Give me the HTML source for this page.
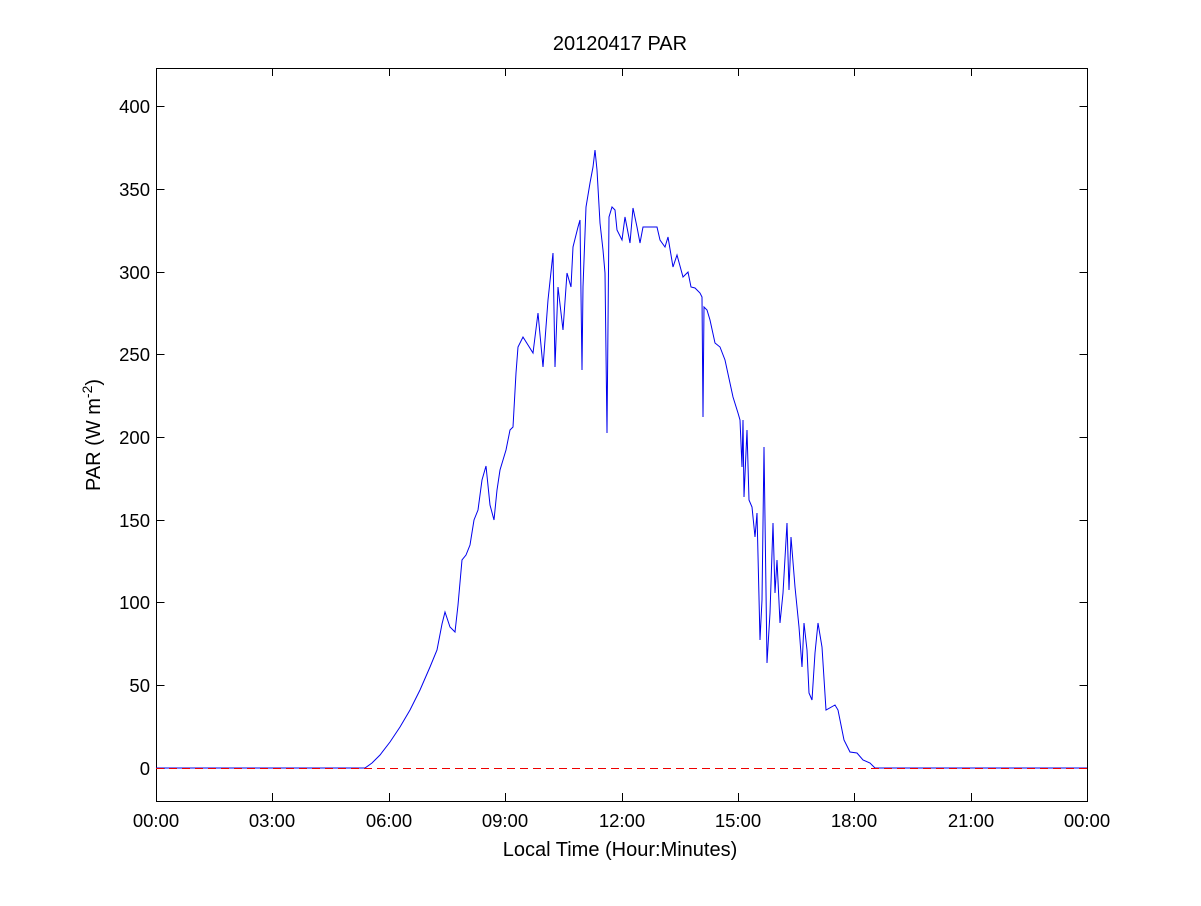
<!DOCTYPE html>
<html><head><meta charset="utf-8"><style>
html,body{margin:0;padding:0;background:#fff;}
svg text{font-family:"Liberation Sans",Arial,sans-serif;fill:#000;}
</style></head><body>
<svg width="1201" height="901" viewBox="0 0 1201 901" xmlns="http://www.w3.org/2000/svg">
<rect width="1201" height="901" fill="#fff"/>
<rect x="156.5" y="68.5" width="931" height="733" fill="#fff" stroke="#000" stroke-width="1"/>
<g stroke="#000" stroke-width="1">
<path d="M156.5 768.5h8M156.5 685.5h8M156.5 602.5h8M156.5 520.5h8M156.5 437.5h8M156.5 354.5h8M156.5 272.5h8M156.5 189.5h8M156.5 106.5h8"/>
<path d="M1087.5 768.5h-8M1087.5 685.5h-8M1087.5 602.5h-8M1087.5 520.5h-8M1087.5 437.5h-8M1087.5 354.5h-8M1087.5 272.5h-8M1087.5 189.5h-8M1087.5 106.5h-8"/>
<path d="M156.5 801v-8M272.5 801v-8M389.5 801v-8M505.5 801v-8M622.5 801v-8M738.5 801v-8M854.5 801v-8M971.5 801v-8M1087.5 801v-8"/>
<path d="M156.5 68v8M272.5 68v8M389.5 68v8M505.5 68v8M622.5 68v8M738.5 68v8M854.5 68v8M971.5 68v8M1087.5 68v8"/>
</g>
<g font-size="18.5" text-anchor="end">
<text x="150" y="775">0</text><text x="150" y="692">50</text><text x="150" y="609">100</text><text x="150" y="527">150</text><text x="150" y="444">200</text><text x="150" y="361">250</text><text x="150" y="279">300</text><text x="150" y="196">350</text><text x="150" y="113">400</text>
</g>
<g font-size="18.5" text-anchor="middle">
<text x="156" y="827">00:00</text><text x="272" y="827">03:00</text><text x="389" y="827">06:00</text><text x="505" y="827">09:00</text><text x="622" y="827">12:00</text><text x="738" y="827">15:00</text><text x="854" y="827">18:00</text><text x="971" y="827">21:00</text><text x="1087" y="827">00:00</text>
</g>
<g font-size="20" text-anchor="middle">
<text x="620" y="856">Local Time (Hour:Minutes)</text>
<text x="620" y="50">20120417 PAR</text>
<text transform="translate(100,435) rotate(-90)">PAR (W m<tspan font-size="14" dy="-8">-2</tspan><tspan dy="8">)</tspan></text>
</g>
<polyline fill="none" stroke="#0000ee" stroke-width="1" points="156,768 365,768 372,763 380,755 390,742 400,727 410,710 420,690 430,667 437,650 442,624 445,612 450,627 455,632 458,605 462,560 466,555 470,545 474,520 478,510 482,480 486,466 490,505 494,520 497,490 500,470 503,460 506,450 510,430 513,427 516,373 518,347 523,337 528,345 533,353 538,313 543,367 548,300 553,253 555,367 558,287 563,330 567,273 571,287 573,247 578,227 580,220 582,370 583,287 586,207 590,183 593,167 595,150 597,170 600,223 603,250 605,273 607,433 609,217 612,207 615,210 617,230 622,240 625,217 630,243 633,208 637,227 640,243 643,227 657,227 660,240 665,247 668,237 673,267 677,255 683,277 688,272 691,287 695,288 700,293 702,297 703,417 704,307 707,310 710,320 715,343 720,347 725,360 733,397 738,413 740,420 742,467 743,420 744,497 747,430 749,500 752,507 755,537 757,513 760,640 762,600 764,447 767,663 770,613 773,523 775,593 777,560 780,623 783,593 787,523 789,590 791,537 795,587 799,627 802,667 804,623 807,650 809,693 812,700 815,653 818,623 822,647 826,710 835,705 838,710 844,740 850,752 857,753 863,760 870,763 875,768 1087,768"/>
<line x1="156" y1="768.5" x2="1087" y2="768.5" stroke="#ee0000" stroke-width="1" stroke-dasharray="8,5"/>
</svg>
</body></html>
